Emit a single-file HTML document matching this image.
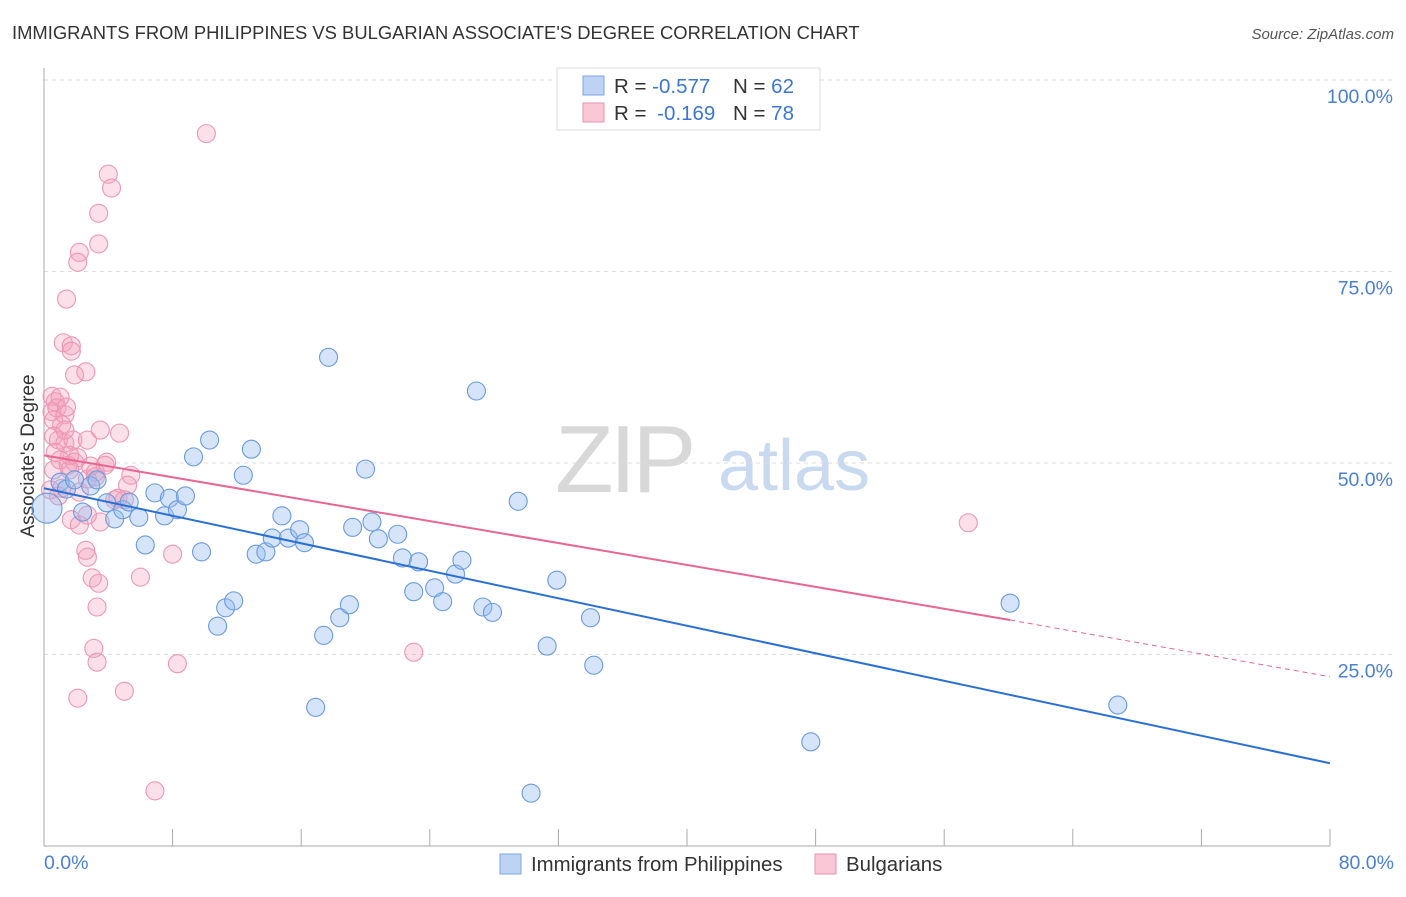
<!DOCTYPE html>
<html><head><meta charset="utf-8"><style>
body{margin:0;background:#fff;font-family:"Liberation Sans",sans-serif;}
svg text{font-family:"Liberation Sans",sans-serif;}
</style></head><body>
<svg id="chart" width="1406" height="892">
<text x="12" y="39" font-size="18.4" fill="#333">IMMIGRANTS FROM PHILIPPINES VS BULGARIAN ASSOCIATE'S DEGREE CORRELATION CHART</text>
<text x="1394" y="39" font-size="15" fill="#555" font-style="italic" text-anchor="end">Source: ZipAtlas.com</text>
<g>
<text x="555" y="492" font-size="96" fill="#d8d8d8" font-family="Liberation Serif" letter-spacing="-4">ZIP</text>
<text x="718" y="490" font-size="72" fill="#c9d9f0">atlas</text>
</g>
<g id="grid"></g>
<line x1="44" y1="68" x2="44" y2="846" stroke="#aaa"/>
<line x1="44" y1="846" x2="1330" y2="846" stroke="#aaa"/>
<g id="xticks"></g>
<text x="44" y="869" font-size="19.5" fill="#4a7fd4">0.0%</text>
<text x="1394" y="869" font-size="19.5" fill="#4a7fd4" text-anchor="end">80.0%</text>
<text transform="translate(34,456) rotate(-90)" font-size="19" fill="#333" text-anchor="middle">Associate's Degree</text>
<g id="pts"></g>
<g id="lines"></g>
<g>
<rect x="557" y="68" width="263" height="62" fill="#fff" stroke="#ddd"/>
<rect x="583" y="76" width="21" height="19" fill="#bcd3f3" stroke="#7fa6e0"/>
<rect x="583" y="103" width="21" height="19" fill="#f9c7d6" stroke="#ea93af"/>
<text x="614" y="93" font-size="20.5" fill="#333">R = <tspan fill="#3d76d0">-0.577</tspan><tspan x="733">N = </tspan><tspan fill="#3d76d0">62</tspan></text>
<text x="614" y="120" font-size="20.5" fill="#333">R = <tspan fill="#3d76d0" dx="5">-0.169</tspan><tspan x="733">N = </tspan><tspan fill="#3d76d0">78</tspan></text>
</g>
<g>
<rect x="500" y="854" width="21" height="20" fill="#bcd3f3" stroke="#7fa6e0"/>
<text x="531" y="871" font-size="20.4" fill="#333">Immigrants from Philippines</text>
<rect x="815" y="854" width="21" height="20" fill="#f9c7d6" stroke="#ea93af"/>
<text x="846" y="871" font-size="20.4" fill="#333">Bulgarians</text>
</g>
</svg>
<script>
const yTicks=[25,50,75,100];
const yTickLabels=["25.0%","50.0%","75.0%","100.0%"];
const xTicks=[0,8,16,24,32,40,48,56,64,72,80];
const blueX=[0,1.0,1.4,1.9,2.4,2.9,3.3,3.9,4.4,4.9,5.3,5.9,6.3,6.9,7.5,7.8,8.3,8.8,9.3,9.8,10.3,10.8,11.3,11.8,12.4,12.9,13.2,13.8,14.2,14.8,15.2,15.9,16.2,16.9,17.4,17.7,18.4,19.0,19.2,20.0,20.4,20.8,22.0,22.3,23.0,23.3,24.3,24.8,25.6,26.0,26.9,27.3,27.9,29.5,30.3,31.3,31.9,34.0,34.2,47.7,60.1,66.8];
const blueY=[44.1,47.5,46.6,47.8,43.6,47.0,47.8,44.8,42.7,43.9,44.9,42.9,39.3,46.1,43.1,45.4,43.9,45.7,50.8,38.4,53.0,28.7,31.1,32.0,48.4,51.8,38.1,38.4,40.2,43.1,40.2,41.3,39.6,18.1,27.5,63.8,29.8,31.5,41.6,49.2,42.3,40.1,40.7,37.6,33.2,37.1,33.7,31.9,35.5,37.3,59.4,31.2,30.5,45.0,6.9,26.1,34.7,29.8,23.6,13.6,31.7,18.4];
const pinkX=[10.1,4.0,4.2,3.4,3.4,2.2,2.1,1.4,1.2,1.7,1.7,1.9,2.6,0.5,0.7,1.0,0.5,0.6,0.8,1.3,1.1,0.6,0.9,1.3,1.8,2.7,3.5,4.7,0.7,1.0,1.5,1.9,2.1,1.6,3.2,3.9,5.4,5.2,2.7,1.1,0.4,0.9,2.2,3.2,4.4,5.0,1.7,2.2,3.5,2.7,2.6,2.7,3.0,3.4,3.3,6.0,8.0,3.1,3.3,2.1,5.0,8.3,6.9,23.0,57.5,1.4,2.9,4.6,1.3,1.6,0.6,3.8];
const pinkY=[93.0,87.7,85.9,82.6,78.6,77.5,76.2,71.4,65.7,65.3,64.6,61.5,61.9,58.7,58.0,58.6,56.7,55.6,57.2,56.3,55.0,53.5,53.0,52.6,53.0,53.0,54.3,53.9,51.4,50.4,49.7,50.1,50.7,49.1,48.8,50.1,48.4,47.1,47.9,46.7,46.5,45.7,46.2,48.2,45.2,45.2,42.6,41.9,42.3,43.2,38.6,37.7,35.0,34.3,31.2,35.1,38.1,25.8,24.0,19.3,20.2,23.8,7.2,25.3,42.2,57.3,49.6,45.4,54.3,51.0,49.1,49.7];
const blueTrend=[46.7,10.8];
const pinkTrend=[51.0,29.5,22.1];
const pinkSolidEnd=60.1;

const NS="http://www.w3.org/2000/svg";
const sx=v=>44+v*1286/80;
const sy=v=>846-v*7.66;
function mk(t,a,p){const e=document.createElementNS(NS,t);for(const k in a)e.setAttribute(k,a[k]);p.appendChild(e);return e;}
const grid=document.getElementById('grid');
yTicks.forEach((t,i)=>{
 const l=mk('line',{x1:44,x2:1394,y1:sy(t),y2:sy(t),stroke:'#ddd','stroke-dasharray':'4,4'},grid);
 
 
 const tx=mk('text',{x:1393,y:sy(t)+23,'font-size':19.5,fill:'#4a7fd4','text-anchor':'end'},grid);
 tx.textContent=yTickLabels[i];
 
 
});
const xt=document.getElementById('xticks');
xTicks.forEach(t=>{
 const l=mk('line',{x1:sx(t),x2:sx(t),y1:829,y2:846,stroke:'#aaa'},xt);
 
 
});
const pts=document.getElementById('pts');
pinkX.forEach((x,i)=>{
 const c=mk('circle',{cx:sx(x),cy:sy(pinkY[i]),r:9,fill:'rgba(244,160,188,0.33)',stroke:'#ec97b3','stroke-width':1.1},pts);
 
 
});
blueX.forEach((x,i)=>{
 const c=mk('circle',{cx:sx(x)+(i==0?3:0),cy:sy(blueY[i]),r:i==0?15:9,fill:'rgba(150,188,240,0.4)',stroke:'#6a9ade','stroke-width':1.1},pts);
 
 
});
const lg=document.getElementById('lines');
const bl=mk('line',{x1:sx(0),y1:sy(blueTrend[0]),x2:sx(80),y2:sy(blueTrend[1]),stroke:'#2a6fd6','stroke-width':2},lg);


const pl=mk('line',{x1:sx(0),y1:sy(pinkTrend[0]),x2:sx(pinkSolidEnd),y2:sy(pinkTrend[1]),stroke:'#e8668f','stroke-width':2},lg);


const pd=mk('line',{x1:sx(pinkSolidEnd),y1:sy(pinkTrend[1]),x2:sx(80),y2:sy(pinkTrend[2]),stroke:'#e8668f','stroke-width':1,'stroke-dasharray':'5,4'},lg);


</script>
</body></html>
